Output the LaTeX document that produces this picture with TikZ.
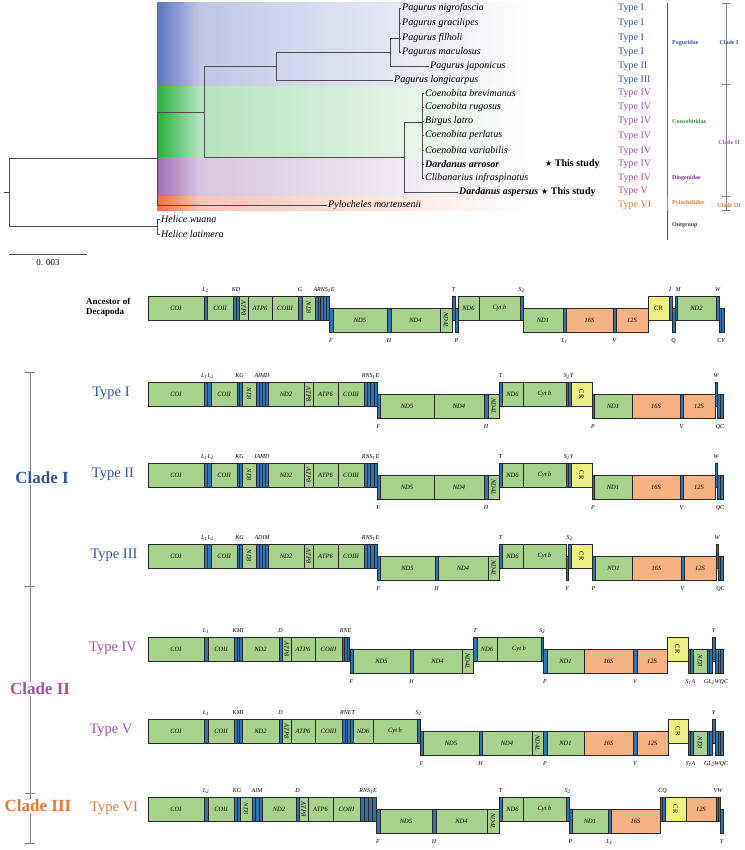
\documentclass[tikz,border=0pt]{standalone}
\usepackage{fontspec}
\setmainfont{Liberation Serif}
\newfontfamily\starfont{DejaVu Sans}
\usetikzlibrary{positioning}

\definecolor{pcgfill}{RGB}{169,209,142}
\definecolor{rrnafill}{RGB}{244,177,131}
\definecolor{crfill}{RGB}{240,240,130}
\definecolor{trnafill}{RGB}{46,117,182}
\definecolor{typeblue}{RGB}{47,85,160}
\definecolor{typepurple}{RGB}{165,80,165}
\definecolor{typeorange}{RGB}{232,120,50}
\definecolor{famgreen}{RGB}{50,150,60}
\definecolor{fampurple}{RGB}{120,50,150}
\definecolor{bandblue}{RGB}{95,115,190}
\definecolor{bandgreen}{RGB}{40,175,60}
\definecolor{bandpurple}{RGB}{160,110,180}
\definecolor{bandorange}{RGB}{240,110,70}

\newcounter{gnum}
% gene box: style, x1, x2, level (0 up / 12 down), label
\newcommand{\gbox}[5]{\stepcounter{gnum}
  \draw[#1] (#2,#4) rectangle (#3,#4+24);
  \node[glab] (g\arabic{gnum}) at ({(#2+#3)/2},{#4+12}) {#5};}
% same, label turned
\newcommand{\gboxr}[5]{\stepcounter{gnum}
  \draw[#1] (#2,#4) rectangle (#3,#4+24);
  \node[glab,rotate=-90] (g\arabic{gnum}) at ({(#2+#3)/2},{#4+12}) {#5};}
% tRNA bars: x1, x2, number, level
\newcommand{\tbars}[4]{\pgfmathsetmacro\tw{(#2-#1)/#3}
  \foreach \i in {1,...,#3}{\draw[trna] ({#1+(\i-1)*\tw},#4) rectangle ({#1+\i*\tw},#4+24);}}
% tRNA labels above / below
\newcommand{\tup}[2]{\stepcounter{gnum}\node[tlab] (t\arabic{gnum}) at (#1,-6) {#2};}
\newcommand{\tdn}[2]{\stepcounter{gnum}\node[tlab] (t\arabic{gnum}) at (#1,45) {#2};}
\newcommand{\sub}[1]{\textsubscript{#1}}

\begin{document}
\begin{tikzpicture}[x=1pt,y=-1pt,
  branch/.style={draw=black!70,line width=0.6pt},
  species/.style={font=\fontsize{10}{10}\selectfont\itshape,anchor=west,inner sep=1pt},
  typelab/.style={font=\fontsize{10}{10}\selectfont,anchor=west,inner sep=0pt},
  famlab/.style={font=\fontsize{6}{6}\selectfont\bfseries,anchor=west,inner sep=0pt},
  cladelab/.style={font=\fontsize{6}{6}\selectfont\bfseries,inner sep=0pt},
  pcg/.style={draw=black!85,line width=0.5pt,fill=pcgfill},
  rrna/.style={draw=black!85,line width=0.5pt,fill=rrnafill},
  crbox/.style={draw=black!85,line width=0.5pt,fill=crfill},
  trna/.style={draw=black!85,line width=0.3pt,fill=trnafill},
  glab/.style={font=\fontsize{6.5}{6.5}\selectfont\itshape,inner sep=0pt},
  crlab/.style={font=\fontsize{6.5}{6.5}\selectfont,inner sep=0pt},
  tlab/.style={font=\fontsize{6}{6}\selectfont\itshape,inner sep=0pt},
  rowlab/.style={font=\fontsize{14.5}{14.5}\selectfont,inner sep=0pt},
  bigclade/.style={font=\fontsize{17}{17}\selectfont\bfseries,fill=white,inner sep=1pt},
  tick/.style={draw=black!50,line width=0.5pt}]
\useasboundingbox (0,0) rectangle (744,850);

% coloured bands behind the tree
\shade[left color=bandblue,right color=bandblue!40] (157,3) rectangle (200,87);
\shade[left color=bandblue!40,right color=white] (200,3) rectangle (530,87);
\shade[left color=bandgreen,right color=bandgreen!35] (157,87) rectangle (200,158);
\shade[left color=bandgreen!35,right color=white] (200,87) rectangle (530,158);
\shade[left color=bandpurple,right color=bandpurple!40] (157,158) rectangle (200,197);
\shade[left color=bandpurple!40,right color=white] (200,158) rectangle (530,197);
\shade[left color=bandorange,right color=bandorange!40] (157,197) rectangle (200,211);
\shade[left color=bandorange!40,right color=white] (200,197) rectangle (530,211);

% leaves
\node[species] (nig) at (401,8) {Pagurus nigrofascia};
\node[species] (gra) at (401,23) {Pagurus gracilipes};
\node[species] (fil) at (401,38) {Pagurus filholi};
\node[species] (mac) at (401,52) {Pagurus maculosus};
\node[species] (jap) at (429,66) {Pagurus japonicus};
\node[species] (lon) at (393,80) {Pagurus longicarpus};
\node[species] (bre) at (424,93) {Coenobita brevimanus};
\node[species] (rug) at (424,107) {Coenobita rugosus};
\node[species] (bir) at (424,121) {Birgus latro};
\node[species] (per) at (424,135) {Coenobita perlatus};
\node[species] (var) at (424,150) {Coenobita variabilis};
\node[species,font=\fontsize{10}{10}\selectfont\bfseries\itshape] (arr) at (424,164) {Dardanus arrosor};
\node[species] (cli) at (424,178) {Clibanarius infraspinatus};
\node[species,font=\fontsize{10}{10}\selectfont\bfseries\itshape] (asp) at (458,192) {Dardanus aspersus};
\node[species] (pyl) at (327,205) {Pylocheles mortensenii};
\node[species] (wua) at (160,219) {Helice wuana};
\node[species] (lat) at (160,234) {Helice latimera};
\node[anchor=west,inner sep=0pt,font=\fontsize{10}{10}\selectfont\bfseries] (st1) at (545,164) {{\starfont\fontsize{8}{8}\selectfont ★} This study};
\node[anchor=west,inner sep=0pt,font=\fontsize{10}{10}\selectfont\bfseries] (st2) at (541,192) {{\starfont\fontsize{8}{8}\selectfont ★} This study};

% inner nodes
\coordinate (root) at (9,192);
\coordinate (ing) at (157,158);
\coordinate (out) at (157,226);
\coordinate (nA) at (204,112);
\coordinate (nB) at (276,66);
\coordinate (nC) at (390,52);
\coordinate (nD) at (399,38);
\coordinate (nE) at (404,157);
\coordinate (nF) at (422,122);

% branches
\draw[branch] (root) -- ++(-5,0);
\draw[branch] (root) |- (ing);
\draw[branch] (root) |- (out);
\draw[branch] (out) |- (wua.west);
\draw[branch] (out) |- (lat.west);
\draw[branch] (ing) |- (nA);
\draw[branch] (ing) |- (pyl.west);
\draw[branch] (nA) |- (nB);
\draw[branch] (nA) |- (nE);
\draw[branch] (nB) |- (nC);
\draw[branch] (nB) |- (lon.west);
\draw[branch] (nC) |- (nD);
\draw[branch] (nC) |- (jap.west);
\draw[branch] (nD) |- (nig.west);
\draw[branch] (nD) |- (mac.west);
\draw[branch] (nD |- gra.west) -- (gra.west);
\draw[branch] (nD) -- (fil.west);
\draw[branch] (nE) |- (nF);
\draw[branch] (nE) |- (asp.west);
\draw[branch] (nF) |- (bre.west);
\draw[branch] (nF) |- (cli.west);
\foreach \s in {rug,bir,per,var,arr}{\draw[branch] (nF |- \s.west) -- (\s.west);}

% scale bar
\draw[branch] (9,254) -- (87,254) node[midway,below=2pt,font=\fontsize{9}{9}\selectfont] (scl) {0. 003};

% gene order types of the tree
\foreach \y/\t in {8/I,23/I,38/I,52/I,66/II,80/III}{\node[typelab,text=typeblue] at (618,\y) {Type \t};}
\foreach \y in {93,107,121,136,151,164,178}{\node[typelab,text=typepurple] at (618,\y) {Type IV};}
\node[typelab,text=typepurple] (tv) at (618,191) {Type V};
\node[typelab,text=typeorange] (tvi) at (618,205) {Type VI};

% families
\draw[typeblue,line width=1pt] (667,3) -- (667,87);
\draw[famgreen,line width=1pt] (667,87) -- (667,158);
\draw[fampurple!80,line width=1pt] (667,158) -- (667,197);
\draw[typeorange,line width=1pt] (667,197) -- (667,211);
\draw[black!70,line width=1pt] (667,211) -- (667,240);
\node[famlab,text=typeblue] (pag) at (672,43) {Paguridae};
\node[famlab,text=famgreen] (coe) at (672,121) {Coenobitidae};
\node[famlab,text=fampurple] (dio) at (672,178) {Diogenidae};
\node[famlab,text=typeorange] (pyf) at (672,203) {Pylochelidae};
\node[famlab,text=black!75] (outg) at (672,225) {Outgroup};

% clades beside the tree
\draw[tick] (726,3) -- (726,210);
\foreach \y in {3,84,196,210}{\draw[tick] (722,\y) -- (730,\y);}
\node[cladelab,text=typeblue] (c1) at (729,42) {Clade I};
\node[cladelab,text=typepurple] (c2) at (729,142) {Clade II};
\node[cladelab,text=typeorange] (c3) at (729,205) {Clade III};

% clades beside the gene orders
\draw[tick] (30,372) -- (30,843);
\foreach \y in {372,586,793,843}{\draw[tick] (25,\y) -- (35,\y);}
\node[bigclade,text=typeblue] (C1) at (42,478) {Clade I};
\node[bigclade,text=typepurple] (C2) at (40,689) {Clade II};
\node[bigclade,text=typeorange] (C3) at (38,806) {Clade III};

% Ancestor of Decapoda
\node[align=left,font=\fontsize{9}{10}\selectfont\bfseries,anchor=west,inner sep=0pt] (anc) at (86,307) {Ancestor of\\Decapoda};
\begin{scope}[shift={(0,296)}]
\gbox{pcg}{148}{204}{0}{COI}
\tbars{204}{207}{1}{0} \tup{205.5}{L\sub{2}}
\gbox{pcg}{207}{233}{0}{COII}
\tbars{233}{239}{2}{0} \tup{236}{KD}
\gboxr{pcg}{239}{248}{0}{ATP8}
\gbox{pcg}{248}{272}{0}{ATP6}
\gbox{pcg}{272}{298}{0}{COIII}
\tbars{298}{302}{1}{0} \tup{300}{G}
\gboxr{pcg}{302}{315}{0}{ND3}
\tbars{315}{329}{5}{0} \tup{324}{ARNS\sub{1}E}
\tbars{329}{333}{1}{12} \tdn{331}{F}
\gbox{pcg}{333}{387}{12}{ND5}
\tbars{387}{391}{1}{12} \tdn{389}{H}
\gbox{pcg}{391}{440}{12}{ND4}
\gboxr{pcg}{440}{452}{12}{ND4L}
\tbars{452}{455}{1}{0} \tup{453.5}{T}
\tbars{455}{458}{1}{12} \tdn{456.5}{P}
\gbox{pcg}{458}{479}{0}{ND6}
\gbox{pcg}{479}{520}{0}{Cyt b}
\tbars{520}{523}{1}{0} \tup{521.5}{S\sub{2}}
\gbox{pcg}{523}{563}{12}{ND1}
\tbars{563}{566}{1}{12} \tdn{564.5}{L\sub{1}}
\gbox{rrna}{566}{613}{12}{16S}
\tbars{613}{616}{1}{12} \tdn{614.5}{V}
\gbox{rrna}{616}{648}{12}{12S}
\draw[crbox] (648,0) rectangle (669,24); \node[crlab] (cr0) at (658.5,12) {CR};
\tbars{669}{672}{1}{0} \tup{670}{I}
\tbars{672}{675}{1}{12} \tdn{673.5}{Q}
\tbars{675}{677}{1}{0} \tup{678}{M}
\gbox{pcg}{677}{716}{0}{ND2}
\tbars{716}{719}{1}{0} \tup{717.5}{W}
\tbars{719}{724}{2}{12} \tdn{721}{CY}
\end{scope}

% Type I
\node[rowlab,text=typeblue] (r1) at (111,393) {Type I};
\begin{scope}[shift={(0,382)}]
\gbox{pcg}{148}{204}{0}{COI}
\tbars{204}{211}{2}{0} \tup{207.5}{L\sub{1}L\sub{2}}
\gbox{pcg}{211}{237}{0}{COII}
\tbars{237}{242}{2}{0} \tup{239.5}{KG}
\gboxr{pcg}{242}{256}{0}{ND3}
\tbars{256}{268}{4}{0} \tup{262}{AIMD}
\gbox{pcg}{268}{304}{0}{ND2}
\gboxr{pcg}{304}{313}{0}{ATP8}
\gbox{pcg}{313}{338}{0}{ATP6}
\gbox{pcg}{338}{364}{0}{COIII}
\tbars{364}{377}{4}{0} \tup{370.5}{RNS\sub{1}E}
\tbars{377}{380}{1}{12} \tdn{378.5}{F}
\gbox{pcg}{380}{434}{12}{ND5}
\gbox{pcg}{434}{484}{12}{ND4}
\tbars{484}{488}{1}{12} \tdn{486}{H}
\gboxr{pcg}{488}{499}{12}{ND4L}
\tbars{499}{502}{1}{0} \tup{500.5}{T}
\gbox{pcg}{502}{523}{0}{ND6}
\gbox{pcg}{523}{566}{0}{Cyt b}
\tbars{566}{571}{2}{0} \tup{568.5}{S\sub{2}Y}
\gboxr{crbox}{571}{592}{0}{\upshape CR}
\tbars{592}{594}{1}{12} \tdn{593}{P}
\gbox{pcg}{594}{632}{12}{ND1}
\gbox{rrna}{632}{680}{12}{16S}
\tbars{680}{683}{1}{12} \tdn{681.5}{V}
\gbox{rrna}{683}{715}{12}{12S}
\tbars{715}{717}{1}{0} \tup{716}{W}
\tbars{717}{723}{2}{12} \tdn{720}{QC}
\end{scope}

% Type II
\node[rowlab,text=typeblue] (r2) at (113,474) {Type II};
\begin{scope}[shift={(0,463)}]
\gbox{pcg}{148}{204}{0}{COI}
\tbars{204}{211}{2}{0} \tup{207.5}{L\sub{1}L\sub{2}}
\gbox{pcg}{211}{237}{0}{COII}
\tbars{237}{242}{2}{0} \tup{239.5}{KG}
\gboxr{pcg}{242}{256}{0}{ND3}
\tbars{256}{268}{4}{0} \tup{262}{IAMD}
\gbox{pcg}{268}{304}{0}{ND2}
\gboxr{pcg}{304}{313}{0}{ATP8}
\gbox{pcg}{313}{338}{0}{ATP6}
\gbox{pcg}{338}{364}{0}{COIII}
\tbars{364}{377}{4}{0} \tup{370.5}{RNS\sub{1}E}
\tbars{377}{380}{1}{12} \tdn{378.5}{F}
\gbox{pcg}{380}{434}{12}{ND5}
\gbox{pcg}{434}{484}{12}{ND4}
\tbars{484}{488}{1}{12} \tdn{486}{H}
\gboxr{pcg}{488}{499}{12}{ND4L}
\tbars{499}{502}{1}{0} \tup{500.5}{T}
\gbox{pcg}{502}{523}{0}{ND6}
\gbox{pcg}{523}{566}{0}{Cyt b}
\tbars{566}{571}{2}{0} \tup{568.5}{S\sub{2}Y}
\gboxr{crbox}{571}{592}{0}{\upshape CR}
\tbars{592}{594}{1}{12} \tdn{593}{P}
\gbox{pcg}{594}{632}{12}{ND1}
\gbox{rrna}{632}{680}{12}{16S}
\tbars{680}{683}{1}{12} \tdn{681.5}{V}
\gbox{rrna}{683}{715}{12}{12S}
\tbars{715}{717}{1}{0} \tup{716}{W}
\tbars{717}{723}{2}{12} \tdn{720}{QC}
\end{scope}

% Type III
\node[rowlab,text=typeblue] (r3) at (114,555) {Type III};
\begin{scope}[shift={(0,544)}]
\gbox{pcg}{148}{204}{0}{COI}
\tbars{204}{211}{2}{0} \tup{207.5}{L\sub{1}L\sub{2}}
\gbox{pcg}{211}{237}{0}{COII}
\tbars{237}{242}{2}{0} \tup{239.5}{KG}
\gboxr{pcg}{242}{256}{0}{ND3}
\tbars{256}{268}{4}{0} \tup{262}{ADIM}
\gbox{pcg}{268}{304}{0}{ND2}
\gboxr{pcg}{304}{313}{0}{ATP8}
\gbox{pcg}{313}{338}{0}{ATP6}
\gbox{pcg}{338}{364}{0}{COIII}
\tbars{364}{377}{4}{0} \tup{370.5}{RNS\sub{1}E}
\tbars{377}{380}{1}{12} \tdn{378.5}{F}
\gbox{pcg}{380}{435}{12}{ND5}
\tbars{435}{438}{1}{12} \tdn{436.5}{H}
\gbox{pcg}{438}{488}{12}{ND4}
\gboxr{pcg}{488}{499}{12}{ND4L}
\tbars{499}{502}{1}{0} \tup{500.5}{T}
\gbox{pcg}{502}{523}{0}{ND6}
\gbox{pcg}{523}{566}{0}{Cyt b}
\tbars{566}{568}{1}{12} \tdn{567}{Y}
\tbars{568}{571}{1}{0} \tup{569.5}{S\sub{2}}
\gboxr{crbox}{571}{592}{0}{\upshape CR}
\tbars{592}{595}{1}{12} \tdn{593.5}{P}
\gbox{pcg}{595}{632}{12}{ND1}
\gbox{rrna}{632}{681}{12}{16S}
\tbars{681}{684}{1}{12} \tdn{682.5}{V}
\gbox{rrna}{684}{716}{12}{12S}
\tbars{716}{718}{1}{0} \tup{717}{W}
\tbars{718}{723}{2}{12} \tdn{720.5}{QC}
\end{scope}

% Type IV
\node[rowlab,text=typepurple] (r4) at (113,648) {Type IV};
\begin{scope}[shift={(0,637)}]
\gbox{pcg}{148}{204}{0}{COI}
\tbars{204}{208}{1}{0} \tup{206}{L\sub{1}}
\gbox{pcg}{208}{234}{0}{COII}
\tbars{234}{242}{3}{0} \tup{238}{KMI}
\gbox{pcg}{242}{279}{0}{ND2}
\tbars{279}{282}{1}{0} \tup{280.5}{D}
\gboxr{pcg}{282}{291}{0}{ATP8}
\gbox{pcg}{291}{315}{0}{ATP6}
\gbox{pcg}{315}{342}{0}{COIII}
\tbars{342}{349}{3}{0} \tup{345.5}{RNE}
\tbars{350}{353}{1}{12} \tdn{351.5}{F}
\gbox{pcg}{353}{410}{12}{ND5}
\tbars{410}{413}{1}{12} \tdn{411.5}{H}
\gbox{pcg}{413}{462}{12}{ND4}
\gboxr{pcg}{462}{473}{12}{ND4L}
\tbars{473}{477}{1}{0} \tup{475}{T}
\gbox{pcg}{477}{497}{0}{ND6}
\gbox{pcg}{497}{541}{0}{Cyt b}
\tbars{541}{543}{1}{0} \tup{542}{S\sub{2}}
\tbars{543}{547}{1}{12} \tdn{545}{P}
\gbox{pcg}{547}{584}{12}{ND1}
\gbox{rrna}{584}{633}{12}{16S}
\tbars{633}{637}{1}{12} \tdn{635}{V}
\gbox{rrna}{637}{667}{12}{12S}
\gboxr{crbox}{667}{688}{0}{\upshape CR}
\tbars{688}{693}{2}{12} \tdn{690.5}{S\sub{1}A}
\gboxr{pcg}{693}{707}{12}{ND3}
\tbars{707}{712}{2}{12}
\tbars{712}{715}{1}{0} \tup{713.5}{Y}
\tbars{715}{723}{3}{12} \tdn{716}{GL\sub{2}WQC}
\end{scope}

% Type V
\node[rowlab,text=typepurple] (r5) at (111,730) {Type V};
\begin{scope}[shift={(0,719)}]
\gbox{pcg}{148}{204}{0}{COI}
\tbars{204}{208}{1}{0} \tup{206}{L\sub{1}}
\gbox{pcg}{208}{234}{0}{COII}
\tbars{234}{242}{3}{0} \tup{238}{KMI}
\gbox{pcg}{242}{279}{0}{ND2}
\tbars{279}{282}{1}{0} \tup{280.5}{D}
\gboxr{pcg}{282}{291}{0}{ATP8}
\gbox{pcg}{291}{315}{0}{ATP6}
\gbox{pcg}{315}{342}{0}{COIII}
\tbars{342}{353}{4}{0} \tup{347.5}{RNET}
\gbox{pcg}{353}{373}{0}{ND6}
\gbox{pcg}{373}{417}{0}{Cyt b}
\tbars{417}{420}{1}{0} \tup{418.5}{S\sub{2}}
\tbars{420}{423}{1}{12} \tdn{421.5}{F}
\gbox{pcg}{423}{479}{12}{ND5}
\tbars{479}{482}{1}{12} \tdn{480.5}{H}
\gbox{pcg}{482}{532}{12}{ND4}
\gboxr{pcg}{532}{543}{12}{ND4L}
\tbars{543}{547}{1}{12} \tdn{545}{P}
\gbox{pcg}{547}{584}{12}{ND1}
\gbox{rrna}{584}{633}{12}{16S}
\tbars{633}{637}{1}{12} \tdn{635}{V}
\gbox{rrna}{637}{668}{12}{12S}
\gboxr{crbox}{668}{688}{0}{\upshape CR}
\tbars{688}{693}{2}{12} \tdn{690.5}{S\sub{1}A}
\gboxr{pcg}{693}{707}{12}{ND3}
\tbars{707}{712}{2}{12}
\tbars{712}{715}{1}{0} \tup{713.5}{Y}
\tbars{715}{723}{3}{12} \tdn{716}{GL\sub{2}WQC}
\end{scope}

% Type VI
\node[rowlab,text=typeorange] (r6) at (114,808) {Type VI};
\begin{scope}[shift={(0,797)}]
\gbox{pcg}{148}{204}{0}{COI}
\tbars{204}{208}{1}{0} \tup{206}{L\sub{2}}
\gbox{pcg}{208}{234}{0}{COII}
\tbars{234}{240}{2}{0} \tup{237}{KG}
\gboxr{pcg}{240}{252}{0}{ND3}
\tbars{252}{262}{3}{0} \tup{257}{AIM}
\gbox{pcg}{262}{296}{0}{ND2}
\tbars{296}{299}{1}{0} \tup{297.5}{D}
\gboxr{pcg}{299}{308}{0}{ATP8}
\gbox{pcg}{308}{333}{0}{ATP6}
\gbox{pcg}{333}{360}{0}{COIII}
\tbars{360}{376}{4}{0} \tup{368}{RNS\sub{1}E}
\tbars{376}{380}{1}{12} \tdn{378}{F}
\gbox{pcg}{380}{432}{12}{ND5}
\tbars{432}{436}{1}{12} \tdn{434}{H}
\gbox{pcg}{436}{487}{12}{ND4}
\gboxr{pcg}{487}{499}{12}{ND4L}
\tbars{499}{502}{1}{0} \tup{500.5}{T}
\gbox{pcg}{502}{523}{0}{ND6}
\gbox{pcg}{523}{566}{0}{Cyt b}
\tbars{566}{569}{1}{0} \tup{567.5}{S\sub{2}}
\tbars{569}{572}{1}{12} \tdn{570.5}{P}
\gbox{pcg}{572}{608}{12}{ND1}
\tbars{608}{611}{1}{12} \tdn{609.5}{L\sub{1}}
\gbox{rrna}{611}{660}{12}{16S}
\tbars{660}{665}{2}{0} \tup{662.5}{CQ}
\gboxr{crbox}{665}{686}{0}{\upshape CR}
\gbox{rrna}{686}{716}{0}{12S}
\tbars{716}{720}{2}{0} \tup{718}{VW}
\tbars{720}{723}{1}{12} \tdn{721.5}{Y}
\end{scope}
\end{tikzpicture}
\end{document}
